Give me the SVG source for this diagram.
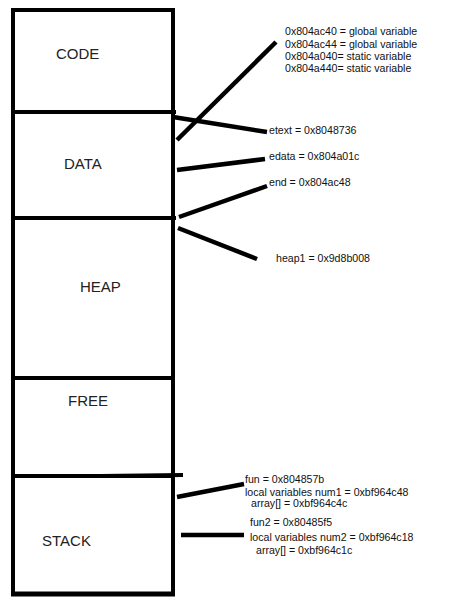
<svg xmlns="http://www.w3.org/2000/svg" width="475" height="600" viewBox="0 0 475 600">
<style>
.seg{fill:none;stroke:#000;stroke-width:4}
.div{stroke:#000;stroke-width:4}
.lbl{font-family:"Liberation Sans",Arial,sans-serif;font-size:15px;fill:#222}
.ann{font-family:"Liberation Sans",Arial,sans-serif;font-size:10.6px;fill:#111}
.con{stroke:#000;stroke-width:4.5;stroke-linecap:butt;fill:none}
</style>
<rect width="475" height="600" fill="#fff"/>
<g id="code"><rect class="seg" x="13" y="10" width="160" height="102"/><text class="lbl" x="56" y="59">CODE</text></g>
<g id="data"><rect class="seg" x="13" y="112" width="160" height="106"/><text class="lbl" x="64" y="169">DATA</text></g>
<g id="heap"><rect class="seg" x="13" y="218" width="160" height="160"/><text class="lbl" x="80" y="292">HEAP</text></g>
<g id="free"><rect class="seg" x="13" y="378" width="160" height="98"/><text class="lbl" x="68" y="406">FREE</text></g>
<g id="stack"><rect class="seg" x="13" y="476" width="160" height="118"/><text class="lbl" x="42" y="546">STACK</text></g>
<g id="dividers">
<line class="div" x1="170" y1="112" x2="176" y2="112"/>
<line class="div" x1="170" y1="218" x2="176" y2="218"/>
<line class="div" x1="170" y1="378" x2="175" y2="378"/>
<line class="div" x1="100" y1="476" x2="183" y2="475"/>
<line x1="11" y1="594" x2="175" y2="594" stroke="#000" stroke-width="5"/>
</g>
<g id="connectors">
<line class="con" x1="177" y1="140" x2="276" y2="42"/>
<line class="con" x1="173" y1="117" x2="267" y2="132"/>
<line class="con" x1="177" y1="170" x2="265" y2="159"/>
<line class="con" x1="179" y1="217" x2="267" y2="186"/>
<line class="con" x1="178" y1="228" x2="257" y2="259"/>
<line class="con" x1="177" y1="497" x2="244" y2="484"/>
<line class="con" x1="181" y1="535" x2="244" y2="535"/>
</g>
<g id="globals">
<text class="ann" x="285" y="35">0x804ac40 = global variable</text>
<text class="ann" x="285" y="47.5">0x804ac44 = global variable</text>
<text class="ann" x="285" y="59.5">0x804a040= static variable</text>
<text class="ann" x="285" y="72">0x804a440= static variable</text>
</g>
<g id="etext"><text class="ann" x="269" y="134">etext = 0x8048736</text></g>
<g id="edata"><text class="ann" x="269" y="160">edata = 0x804a01c</text></g>
<g id="end"><text class="ann" x="269" y="186">end = 0x804ac48</text></g>
<g id="heap1"><text class="ann" x="276" y="262">heap1 = 0x9d8b008</text></g>
<g id="fun">
<text class="ann" x="245" y="483">fun = 0x804857b</text>
<text class="ann" x="245" y="496">local variables num1 = 0xbf964c48</text>
<text class="ann" x="251" y="507">array[] = 0xbf964c4c</text>
</g>
<g id="fun2">
<text class="ann" x="250" y="526">fun2 = 0x80485f5</text>
<text class="ann" x="250" y="540.5">local variables num2 = 0xbf964c18</text>
<text class="ann" x="256" y="554">array[] = 0xbf964c1c</text>
</g>
</svg>
